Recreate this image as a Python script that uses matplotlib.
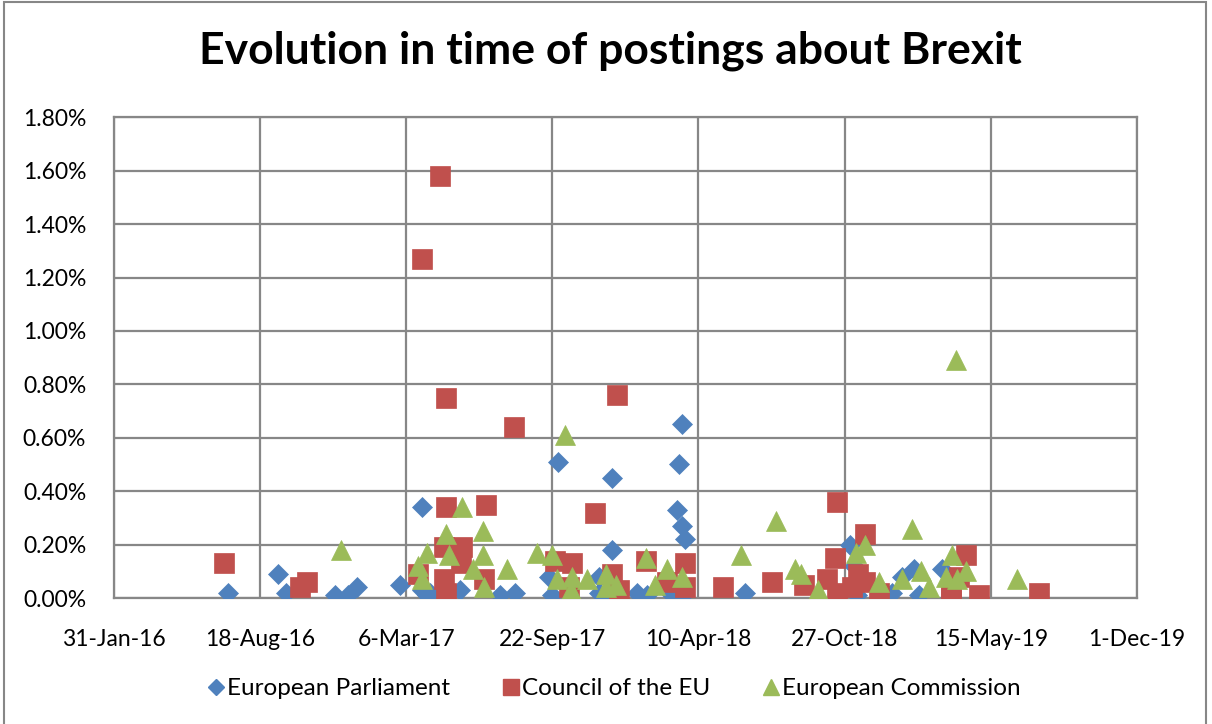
import datetime as dt
import matplotlib
matplotlib.use("Agg")
import matplotlib.pyplot as plt
import matplotlib.dates as mdates
from matplotlib.lines import Line2D
from matplotlib.patches import Rectangle
from matplotlib.ticker import FuncFormatter, MultipleLocator

plt.rcParams["font.family"] = ["Lato", "DejaVu Sans"]

# ----- Data (share of postings, in %) -----

ep_dates = [
    "2016-07-05", "2016-09-11", "2016-09-22", "2016-11-28", "2016-12-16",
    "2016-12-29", "2017-02-26", "2017-03-28", "2017-03-27", "2017-04-03",
    "2017-04-07", "2017-05-18", "2017-07-12", "2017-08-02", "2017-09-18",
    "2017-09-22", "2017-09-30", "2017-11-25", "2017-11-25", "2017-12-12",
    "2017-12-12", "2017-12-10", "2018-01-16", "2018-01-29", "2018-03-05",
    "2018-03-14", "2018-03-12", "2018-03-18", "2018-03-19", "2018-03-23",
    "2018-03-20", "2018-06-13", "2018-11-04", "2018-11-09", "2018-11-13",
    "2018-12-31", "2019-01-13", "2019-01-30", "2019-02-06", "2019-03-09",
]
ep_values = [
    0.02, 0.09, 0.02, 0.01, 0.01,
    0.04, 0.05, 0.34, 0.03, 0.01,
    0.02, 0.03, 0.01, 0.02, 0.08,
    0.01, 0.51, 0.08, 0.02, 0.45,
    0.18, 0.01, 0.02, 0.01, 0.01,
    0.50, 0.33, 0.65, 0.27, 0.22,
    0.01, 0.02, 0.20, 0.12, 0.01,
    0.02, 0.08, 0.11, 0.01, 0.11,
]

council_dates = [
    "2016-06-30", "2016-10-11", "2016-10-21", "2017-03-22", "2017-03-28",
    "2017-04-21", "2017-04-30", "2017-04-29", "2017-04-27", "2017-05-22",
    "2017-05-20", "2017-04-27", "2017-04-30", "2017-06-21", "2017-06-23",
    "2017-07-31", "2017-09-25", "2017-10-19", "2017-10-15", "2017-11-20",
    "2017-12-20", "2017-12-13", "2017-12-22", "2018-01-28", "2018-02-26",
    "2018-03-22", "2018-03-22", "2018-05-14", "2018-07-20", "2018-09-01",
    "2018-10-03", "2018-10-16", "2018-10-14", "2018-10-16", "2018-11-06",
    "2018-11-14", "2018-11-24", "2018-11-24", "2018-12-13", "2019-03-22",
    "2019-03-22", "2019-04-02", "2019-04-11", "2019-04-29", "2019-07-20",
]
council_values = [
    0.13, 0.04, 0.06, 0.09, 1.27,
    1.58, 0.75, 0.34, 0.19, 0.19,
    0.13, 0.07, 0.02, 0.07, 0.35,
    0.64, 0.14, 0.13, 0.04, 0.32,
    0.76, 0.09, 0.03, 0.14, 0.06,
    0.13, 0.04, 0.04, 0.06, 0.05,
    0.07, 0.36, 0.15, 0.02, 0.04,
    0.09, 0.24, 0.06, 0.02, 0.00,
    0.03, 0.08, 0.16, 0.01, 0.02,
]

commission_dates = [
    "2016-12-07", "2017-03-22", "2017-03-28", "2017-04-03", "2017-04-29",
    "2017-05-03", "2017-05-22", "2017-06-06", "2017-06-19", "2017-06-19",
    "2017-06-21", "2017-07-22", "2017-09-01", "2017-09-22", "2017-09-28",
    "2017-10-10", "2017-10-19", "2017-10-18", "2017-11-09", "2017-12-05",
    "2017-12-05", "2017-12-18", "2018-01-28", "2018-02-09", "2018-02-26",
    "2018-03-19", "2018-06-07", "2018-07-25", "2018-08-20", "2018-08-29",
    "2018-09-20", "2018-11-12", "2018-11-24", "2018-12-13", "2019-01-13",
    "2019-01-27", "2019-02-08", "2019-02-20", "2019-03-15", "2019-03-23",
    "2019-03-29", "2019-03-30", "2019-04-11", "2019-06-20",
]
commission_values = [
    0.18, 0.12, 0.07, 0.17, 0.24,
    0.16, 0.34, 0.11, 0.16, 0.25,
    0.04, 0.11, 0.17, 0.16, 0.07,
    0.61, 0.08, 0.03, 0.07, 0.09,
    0.04, 0.05, 0.15, 0.05, 0.11,
    0.08, 0.16, 0.29, 0.11, 0.09,
    0.03, 0.17, 0.20, 0.06, 0.07,
    0.26, 0.10, 0.04, 0.08, 0.16,
    0.89, 0.07, 0.10, 0.07,
]

series = [
    ("European Parliament", ep_dates, ep_values, "D", 10, "#4F81BD"),
    ("Council of the EU", council_dates, council_values, "s", 14.5, "#C0504D"),
    ("European Commission", commission_dates, commission_values, "^", 14.5, "#9BBB59"),
]

# ----- Plot -----

fig = plt.figure(figsize=(12.12, 7.24), dpi=100)
ax = fig.add_axes([0.094, 0.174, 0.844, 0.664])

for name, dates, values, marker, size, color in series:
    x = [dt.datetime.strptime(d, "%Y-%m-%d") for d in dates]
    ax.plot(x, values, linestyle="none", marker=marker, markersize=size,
            color=color, markeredgecolor=color, markeredgewidth=0.5, zorder=3)

start = dt.datetime(2016, 1, 31)
ticks = [start + dt.timedelta(days=200 * i) for i in range(8)]
ax.set_xlim(ticks[0], ticks[-1])
ax.set_xticks(ticks)
ax.xaxis.set_major_formatter(FuncFormatter(
    lambda v, pos: "{}-{}".format(mdates.num2date(v).day, mdates.num2date(v).strftime("%b-%y"))))

ax.set_ylim(0, 1.8)
ax.yaxis.set_major_locator(MultipleLocator(0.2))
ax.yaxis.set_major_formatter(FuncFormatter(lambda v, pos: "%.2f%%" % v))

ax.grid(True, color="#878787", linewidth=1.6, zorder=0)
for s in ax.spines.values():
    s.set_color("#878787")
    s.set_linewidth(1.6)
ax.tick_params(length=0, labelsize=16.5, colors="black")
ax.tick_params(axis="x", pad=22)
ax.tick_params(axis="y", pad=20)
ax.set_axisbelow(True)

fig.text(0.504, 0.930, "Evolution in time of postings about Brexit",
         ha="center", va="center", fontsize=32, fontweight="bold")

handles = [Line2D([], [], linestyle="none", marker=m, markersize=sz * 0.8,
                  color=c, label=n) for n, _, _, m, sz, c in series]
fig.legend(handles=handles, loc="center", bbox_to_anchor=(0.506, 0.049), ncol=3,
           frameon=False, fontsize=17.5, handletextpad=0.05, columnspacing=2.1,
           handlelength=0.8)

# chart area border
fig.patches.append(Rectangle((0.003, -0.05), 0.992, 1.047, transform=fig.transFigure,
                             fill=False, edgecolor="#878787", linewidth=1.5))

plt.savefig("out.png", dpi=100)
